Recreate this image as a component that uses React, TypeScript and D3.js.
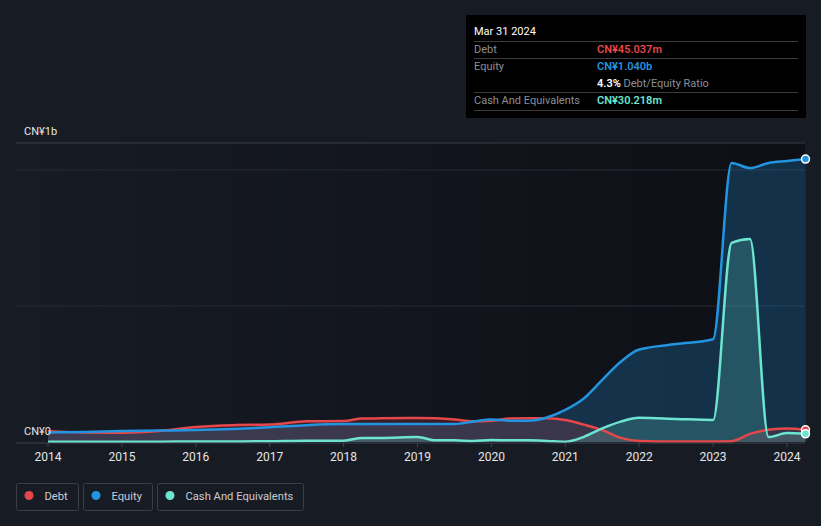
import { useEffect, useRef } from "react"
import * as d3 from "d3"

const years = [
  2014.0, 2014.5, 2015.0, 2015.5, 2016.0, 2016.5, 2017.0, 2017.5, 2018.0, 2018.25, 2018.5,
  2019.0, 2019.25, 2019.5, 2019.75, 2020.0, 2020.25, 2020.5, 2020.75, 2021.0, 2021.25,
  2021.5, 2021.75, 2022.0, 2022.5, 2023.0, 2023.25, 2023.5, 2023.75, 2024.0, 2024.25,
]

// values in CN¥ millions
const debt = [
  40, 35, 34, 40, 55, 62, 64, 76, 77, 86, 87, 88, 87, 83, 76, 78, 86, 87, 87, 81, 64, 44, 15, 4,
  2, 2, 3, 30, 45, 50, 45,
]
const equity = [
  35, 37, 40, 42, 44, 48, 54, 62, 66, 66, 66, 66, 66, 66, 75, 83, 78, 78, 90, 118, 160, 228, 295,
  340, 360, 378, 1026, 1007, 1026, 1033, 1040,
]
const cash = [
  1, 1, 1, 1, 2, 2, 3, 5, 5, 15, 15, 18, 6, 6, 4, 7, 6, 6, 4, 1, 19, 50, 75, 89, 85, 81, 732, 746,
  18, 33, 30,
]

const yearTicks = [2014, 2015, 2016, 2017, 2018, 2019, 2020, 2021, 2022, 2023, 2024]

const seriesList = [
  { name: "Debt", values: debt, color: "#e5474b", fillOpacity: 0.18 },
  { name: "Equity", values: equity, color: "#2394df", fillOpacity: 0.25 },
  { name: "Cash And Equivalents", values: cash, color: "#6de4d0", fillOpacity: 0.2 },
]

const tooltipRows = [
  { label: "Debt", value: "CN¥45.037m", color: "#e5474b" },
  { label: "Equity", value: "CN¥1.040b", color: "#2394df" },
  { label: "", value: "4.3%", color: "#ffffff", extra: " Debt/Equity Ratio" },
  { label: "Cash And Equivalents", value: "CN¥30.218m", color: "#6de4d0" },
]

const width = 821
const height = 526
const font = "Roboto, 'Noto Sans', sans-serif"

const App = () => {
  const svgRef = useRef<SVGSVGElement | null>(null)

  useEffect(() => {
    document.body.style.margin = "0"
    const svg = d3.select(svgRef.current)
    svg.selectAll("*").remove()

    const plotLeft = 16
    const plotRight = 805
    const plotTop = 143
    const baseY = 443

    const x = d3.scaleLinear().domain([2014, 2024]).range([48, 787])
    const y = d3.scaleLinear().domain([0, 1000]).range([442, 170])

    svg.append("rect").attr("width", width).attr("height", height).attr("fill", "#171b24")

    // plot background gradient
    const defs = svg.append("defs")
    const bg = defs.append("linearGradient").attr("id", "plotbg").attr("x1", 0).attr("x2", 1).attr("y1", 0).attr("y2", 0)
    bg.append("stop").attr("offset", "0%").attr("stop-color", "#171b24")
    bg.append("stop").attr("offset", "100%").attr("stop-color", "#0d0f15")

    svg
      .append("rect")
      .attr("x", plotLeft)
      .attr("y", plotTop)
      .attr("width", plotRight - plotLeft)
      .attr("height", baseY - plotTop)
      .attr("fill", "url(#plotbg)")

    // gridlines
    ;[plotTop, y(1000), y(500)].forEach((gy) => {
      svg
        .append("line")
        .attr("x1", plotLeft)
        .attr("x2", plotRight)
        .attr("y1", gy)
        .attr("y2", gy)
        .attr("stroke", gy === plotTop ? "#3a3e47" : "#262a33")
        .attr("stroke-width", 1)
    })

    const pts = (vals: number[]) => years.map((yr, i) => [yr, vals[i]] as [number, number])

    const area = d3
      .area<[number, number]>()
      .x((d) => x(d[0]))
      .y0(y(0))
      .y1((d) => y(d[1]))
      .curve(d3.curveMonotoneX)

    const line = d3
      .line<[number, number]>()
      .x((d) => x(d[0]))
      .y((d) => y(d[1]))
      .curve(d3.curveMonotoneX)

    // areas: equity first, then debt, then cash
    ;[1, 0, 2].forEach((i) => {
      const s = seriesList[i]
      svg
        .append("path")
        .attr("d", area(pts(s.values)))
        .attr("fill", s.color)
        .attr("fill-opacity", s.fillOpacity)
    })

    seriesList.forEach((s) => {
      svg
        .append("path")
        .attr("d", line(pts(s.values)))
        .attr("fill", "none")
        .attr("stroke", s.color)
        .attr("stroke-width", 2.5)
    })

    // end dots
    seriesList.forEach((s) => {
      const last = s.values[s.values.length - 1]
      svg
        .append("circle")
        .attr("cx", x(years[years.length - 1]))
        .attr("cy", y(last))
        .attr("r", 4)
        .attr("fill", s.color)
        .attr("stroke", "#ffffff")
        .attr("stroke-width", 1.5)
    })

    // x axis
    svg
      .append("line")
      .attr("x1", plotLeft)
      .attr("x2", plotRight)
      .attr("y1", baseY)
      .attr("y2", baseY)
      .attr("stroke", "#3f434c")
    yearTicks.forEach((t) => {
      svg
        .append("line")
        .attr("x1", x(t))
        .attr("x2", x(t))
        .attr("y1", baseY)
        .attr("y2", baseY + 4)
        .attr("stroke", "#3f434c")
      svg
        .append("text")
        .attr("x", x(t))
        .attr("y", 461)
        .attr("text-anchor", "middle")
        .attr("font-family", font)
        .attr("font-size", 12)
        .attr("fill", "#e6e6e6")
        .text(String(t))
    })

    // y labels
    svg
      .append("text")
      .attr("x", 24)
      .attr("y", 135)
      .attr("font-family", font)
      .attr("font-size", 11)
      .attr("fill", "#e6e6e6")
      .text("CN¥1b")
    svg
      .append("text")
      .attr("x", 24)
      .attr("y", 435)
      .attr("font-family", font)
      .attr("font-size", 11)
      .attr("fill", "#e6e6e6")
      .text("CN¥0")

    // tooltip box
    const tip = svg.append("g")
    tip.append("rect").attr("x", 466).attr("y", 15).attr("width", 340).attr("height", 103).attr("fill", "#000000")
    tip
      .append("text")
      .attr("x", 474)
      .attr("y", 35)
      .attr("font-family", font)
      .attr("font-size", 11)
      .attr("fill", "#ffffff")
      .text("Mar 31 2024")
    ;[41, 58, 92, 110].forEach((ly) => {
      tip
        .append("line")
        .attr("x1", 474)
        .attr("x2", 798)
        .attr("y1", ly + 0.5)
        .attr("y2", ly + 0.5)
        .attr("stroke", "#3c3c3c")
    })
    tooltipRows.forEach((r, i) => {
      const ry = 53 + i * 17
      if (r.label) {
        tip
          .append("text")
          .attr("x", 474)
          .attr("y", ry)
          .attr("font-family", font)
          .attr("font-size", 11)
          .attr("fill", "#8b8f96")
          .text(r.label)
      }
      const t = tip
        .append("text")
        .attr("x", 597)
        .attr("y", ry)
        .attr("font-family", font)
        .attr("font-size", 11)
      t.append("tspan").attr("fill", r.color).attr("font-weight", 600).text(r.value)
      if (r.extra) t.append("tspan").attr("fill", "#8b8f96").text(r.extra)
    })

    // legend
    const legendBoxes = [
      { x0: 16.5, w: 62 },
      { x0: 83.5, w: 69 },
      { x0: 157.5, w: 146 },
    ]
    seriesList.forEach((s, i) => {
      const b = legendBoxes[i]
      const g = svg.append("g")
      g.append("rect")
        .attr("x", b.x0)
        .attr("y", 483.5)
        .attr("width", b.w)
        .attr("height", 27)
        .attr("rx", 2)
        .attr("fill", "none")
        .attr("stroke", "#3a3e47")
      g.append("circle").attr("cx", b.x0 + 12.5).attr("cy", 495.5).attr("r", 4.5).attr("fill", s.color)
      g.append("text")
        .attr("x", b.x0 + 28)
        .attr("y", 499.5)
        .attr("font-family", font)
        .attr("font-size", 11.2)
        .attr("fill", "#c9cbd0")
        .text(s.name)
    })
  }, [])

  return (
    <svg
      ref={svgRef}
      width={width}
      height={height}
      style={{ position: "absolute", left: 0, top: 0, display: "block" }}
    />
  )
}

export default App
